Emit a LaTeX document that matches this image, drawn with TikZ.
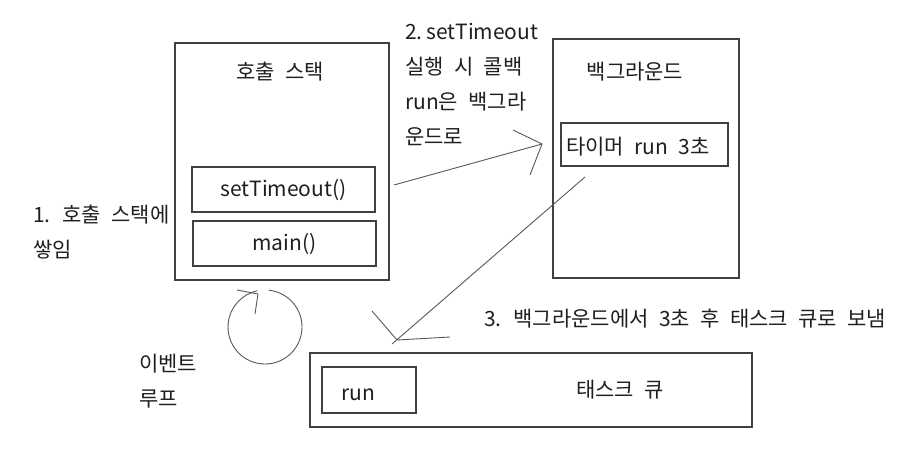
\documentclass[tikz,border=0pt]{standalone}
\usepackage{fontspec}
\setmainfont[WordSpace=2.2]{Noto Sans CJK KR}
\begin{document}
\begin{tikzpicture}[x=1pt,y=-1pt,
  box/.style={draw=black!75,line width=1.2pt,rectangle,inner sep=0pt},
  lbl/.style={text=black!88,font=\fontsize{21}{35}\selectfont,inner sep=0pt},
  pen/.style={draw=black!65,line width=0.9pt}]
\useasboundingbox[fill=white] (0,0) rectangle (916,450);
% call stack
\node[box,minimum width=214pt,minimum height=237pt] (cs) at (282,161.5) {};
\node[lbl] (cst) at (280,72) {호출 스택};
\node[box,minimum width=183pt,minimum height=45pt] (st) at (283.5,189.5) {};
\node[lbl] (stt) at (283.5,189.5) {setTimeout()};
\node[box,minimum width=183pt,minimum height=45pt] (mn) at (284.5,243.5) {};
\node[lbl] (mnt) at (284.5,243.5) {main()};
% background
\node[box,minimum width=186pt,minimum height=239pt] (bg) at (646,158.5) {};
\node[lbl] (bgt) at (635,72) {백그라운드};
\node[box,minimum width=167pt,minimum height=43pt] (tm) at (644.5,144.5) {};
\node[lbl] (tmt) at (638,147) {타이머 run 3초};
% task queue
\node[box,minimum width=442pt,minimum height=74pt] (tq) at (531,390) {};
\node[lbl] (tqt) at (620,390) {태스크 큐};
\node[box,minimum width=94pt,minimum height=46pt] (rn) at (369,390) {};
\node[lbl] (rnt) at (358,395) {run};
% labels
\node[lbl,anchor=west,align=left] (l1) at (33,232) {1. 호출 스택에\\쌓임};
\node[lbl,anchor=west,align=left] (l2) at (405,84) {2.\hspace{4pt}setTimeout\\실행 시 콜백\\run은 백그라\\운드로};
\node[lbl,anchor=west] (l3) at (484,319) {3. 백그라운드에서 3초 후 태스크 큐로 보냄};
\node[lbl,anchor=west,align=left] (l4) at (139,381) {이벤트\\루프};
% arrow 1
\coordinate (a1s) at (394,185);
\coordinate (a1e) at (542,144);
\coordinate (a1h1) at (513,130);
\coordinate (a1h2) at (530,175);
\draw[pen] (a1s) -- (a1e);
\draw[pen] (a1h1) -- (a1e) -- (a1h2);
% arrow 2
\coordinate (a2s) at (585,177);
\coordinate (a2e) at (397,340);
\coordinate (a2x) at (392,344);
\coordinate (a2h1) at (372,311);
\coordinate (a2h2) at (450,337);
\draw[pen] (a2s) -- (a2x);
\draw[pen] (a2h1) -- (a2e) -- (a2h2);
% event loop
\coordinate (lc) at (265,327);
\draw[pen] ([shift={(84:37pt)}]lc) arc[start angle=84,end angle=-258,radius=37pt];
\coordinate (lt) at (258,294);
\coordinate (lh1) at (237,290);
\coordinate (lh2) at (255,314);
\draw[pen] (lh1) -- (lt) -- (lh2);
\end{tikzpicture}
\end{document}
